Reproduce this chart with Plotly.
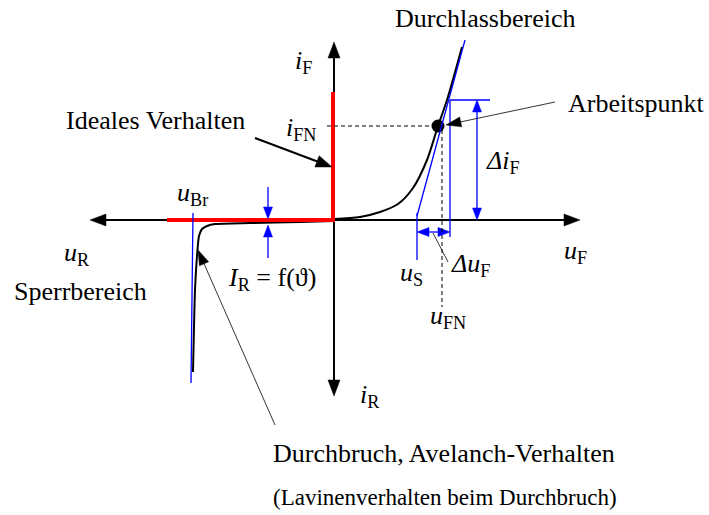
import math
import plotly.graph_objects as go

# Coordinates: u (voltage) to the right, i (current) upwards, origin at the axis crossing.
X_RANGE = [-334, 375]
Y_RANGE = [-295, 220]

# Axis extents
AXIS_U = [-244, 246]
AXIS_I = [-176, 178]

# Real characteristic: forward branch
FWD_U = [0, 26, 46, 64, 79, 93, 104, 113, 128]
FWD_I = [1, 3, 8, 16, 32, 60, 94, 120, 173]

# Real characteristic: reverse branch with avalanche breakdown
REV_U = [0, -34, -84, -119, -127, -132, -135, -137, -139, -141]
REV_I = [-1, -2, -3, -4, -6, -9, -16, -36, -70, -152]

# Ideal diode
IDEAL_U = [-167, -1, -1]
IDEAL_I = [0, 0, 128]

# Operating point and its tangent
OP_U, OP_I = 104, 94
TANGENT_U = [83, 131]
TANGENT_I = [4, 180]
US_U, US_I = 83, [7, -40]
UFN_DASH_U, UFN_DASH_I = 108, [90, -87]
IFN_DASH_U = [-7, 104]
DU_RIGHT_U, DU_RIGHT_I = 116, [120, -17]
DI_TOP_U = [116, 156]
DI_ARROW_U, DI_ARROW_I = 143, [120, 0]
DU_ARROW_I, DU_ARROW_U = -12, [83, 116]
DU_LEADER = [(99, -13), (114, -42)]

# Breakdown voltage marker
BR_LINE = [(-141, 7), (-143, -163)]

# Leakage current markers
IR_U = -66
IR_TOP = [33, 1]
IR_BOT = [-38, -5]

# Pointer arrows (tail, tip)
ARROW_IDEAL = [(-79, 82), (-2, 53)]
ARROW_OP = [(221, 118), (112, 95)]
ARROW_BR = [(-59, -205), (-136, -30)]

BLACK = "#000000"
BLUE = "#0000ff"
RED = "#ff0000"
FONT = "Liberation Serif"

fig = go.Figure()
shapes = []


def seg(p, q, color, width, dash=None, layer="above"):
    line = dict(color=color, width=width)
    if dash:
        line["dash"] = dash
    shapes.append(dict(type="line", xref="x", yref="y", x0=p[0], y0=p[1],
                       x1=q[0], y1=q[1], line=line, layer=layer))


def head(tip, tail, color, length, width, layer="above"):
    dx, dy = tip[0] - tail[0], tip[1] - tail[1]
    n = math.hypot(dx, dy)
    ux, uy = dx / n, dy / n
    bx, by = tip[0] - ux * length, tip[1] - uy * length
    px, py = -uy * width / 2, ux * width / 2
    path = (f"M{tip[0]},{tip[1]} L{bx + px},{by + py} "
            f"L{bx - px},{by - py} Z")
    shapes.append(dict(type="path", xref="x", yref="y", path=path,
                       fillcolor=color, line=dict(color=color, width=0.5),
                       layer=layer))
    return (tip[0] - ux * length * 0.8, tip[1] - uy * length * 0.8)


def arrow(tail, tip, color, lw, length, width):
    base = head(tip, tail, color, length, width)
    seg(tail, base, color, lw)


# Axes with arrowheads at both ends (beneath the characteristics)
left = (AXIS_U[0], 0)
right = (AXIS_U[1], 0)
bottom = (0, AXIS_I[0])
top = (0, AXIS_I[1])
seg(head(left, right, BLACK, 16, 12, "below"), head(right, left, BLACK, 16, 12, "below"),
    BLACK, 2, layer="below")
seg(head(bottom, top, BLACK, 16, 12, "below"), head(top, bottom, BLACK, 16, 12, "below"),
    BLACK, 2, layer="below")

# Real characteristic
fig.add_trace(go.Scatter(x=FWD_U, y=FWD_I, mode="lines",
                         line=dict(color=BLACK, width=2, shape="spline", smoothing=0.8),
                         hoverinfo="skip"))
fig.add_trace(go.Scatter(x=REV_U, y=REV_I, mode="lines",
                         line=dict(color=BLACK, width=2, shape="spline", smoothing=0.6),
                         hoverinfo="skip"))

# Ideal characteristic
fig.add_trace(go.Scatter(x=IDEAL_U, y=IDEAL_I, mode="lines",
                         line=dict(color=RED, width=4), hoverinfo="skip"))

# Tangent and construction lines
seg((TANGENT_U[0], TANGENT_I[0]), (TANGENT_U[1], TANGENT_I[1]), BLUE, 1.3)
seg((US_U, US_I[0]), (US_U, US_I[1]), BLUE, 1.3)
seg((DU_RIGHT_U, DU_RIGHT_I[0]), (DU_RIGHT_U, DU_RIGHT_I[1]), BLUE, 1.3)
seg((DI_TOP_U[0], DU_RIGHT_I[0]), (DI_TOP_U[1], DU_RIGHT_I[0]), BLUE, 1.3)
seg(BR_LINE[0], BR_LINE[1], BLUE, 1.3)

# Delta i_F double arrow
p_top, p_bot = (DI_ARROW_U, DI_ARROW_I[0]), (DI_ARROW_U, DI_ARROW_I[1])
seg(head(p_top, p_bot, BLUE, 12, 9), head(p_bot, p_top, BLUE, 12, 9), BLUE, 1.3)
# Delta u_F double arrow
p_l, p_r = (DU_ARROW_U[0], DU_ARROW_I), (DU_ARROW_U[1], DU_ARROW_I)
seg(head(p_l, p_r, BLUE, 12, 9), head(p_r, p_l, BLUE, 12, 9), BLUE, 1.3)
seg(DU_LEADER[0], DU_LEADER[1], BLACK, 0.8)

# Leakage current arrows
arrow((IR_U, IR_TOP[0]), (IR_U, IR_TOP[1]), BLUE, 1.3, 12, 9)
arrow((IR_U, IR_BOT[0]), (IR_U, IR_BOT[1]), BLUE, 1.3, 12, 9)

# Dashed projections of the operating point
seg((IFN_DASH_U[0], OP_I), (IFN_DASH_U[1], OP_I), BLACK, 1, "4px,3px")
seg((UFN_DASH_U, UFN_DASH_I[0]), (UFN_DASH_U, UFN_DASH_I[1]), BLACK, 1, "4px,3px")

# Operating point
fig.add_trace(go.Scatter(x=[OP_U], y=[OP_I], mode="markers",
                         marker=dict(color=BLACK, size=13), hoverinfo="skip"))

# Pointer arrows
arrow(ARROW_IDEAL[0], ARROW_IDEAL[1], BLACK, 2, 16, 12)
arrow(ARROW_OP[0], ARROW_OP[1], BLACK, 0.8, 15, 10)
arrow(ARROW_BR[0], ARROW_BR[1], BLACK, 0.8, 15, 10)

# Labels: (text, u, i, size, xanchor)
LABELS = [
    ("Durchlassbereich", 151, 202, 26, "center"),
    ("Arbeitspunkt", 302, 117, 26, "center"),
    ("Ideales Verhalten", -179, 100, 26, "center"),
    ("<i>i</i><sub>F</sub>", -31, 158, 26, "center"),
    ("<i>i</i><sub>FN</sub>", -33, 91, 26, "center"),
    ("<i>u</i><sub>Br</sub>", -142, 26, 26, "center"),
    ("<i>u</i><sub>R</sub>", -257, -34, 26, "center"),
    ("Sperrbereich", -254, -71, 26, "center"),
    ("<i>I</i><sub>R</sub> = f(ϑ)", -62, -59, 26, "center"),
    ("<i>u</i><sub>S</sub>", 77, -54, 26, "center"),
    ("<i>Δu</i><sub>F</sub>", 136, -45, 26, "center"),
    ("<i>u</i><sub>FN</sub>", 114, -97, 26, "center"),
    ("<i>u</i><sub>F</sub>", 241, -32, 26, "center"),
    ("<i>Δi</i><sub>F</sub>", 169, 58, 26, "center"),
    ("<i>i</i><sub>R</sub>", 36, -176, 26, "center"),
    ("Durchbruch, Avelanch-Verhalten", -63, -233, 26, "left"),
    ("(Lavinenverhalten beim Durchbruch)", -63, -277, 23, "left"),
]
annotations = [
    dict(text=t, x=u, y=i, xref="x", yref="y", showarrow=False,
         xanchor=xa, yanchor="middle",
         font=dict(family=FONT, size=s, color=BLACK))
    for t, u, i, s, xa in LABELS
]

fig.update_layout(
    width=709, height=515, autosize=False,
    margin=dict(l=0, r=0, t=0, b=0, pad=0),
    paper_bgcolor="white", plot_bgcolor="white",
    showlegend=False,
    xaxis=dict(range=X_RANGE, visible=False, fixedrange=True),
    yaxis=dict(range=Y_RANGE, visible=False, fixedrange=True),
    shapes=shapes, annotations=annotations,
)

fig.write_html("out.html", config={"displayModeBar": False})
